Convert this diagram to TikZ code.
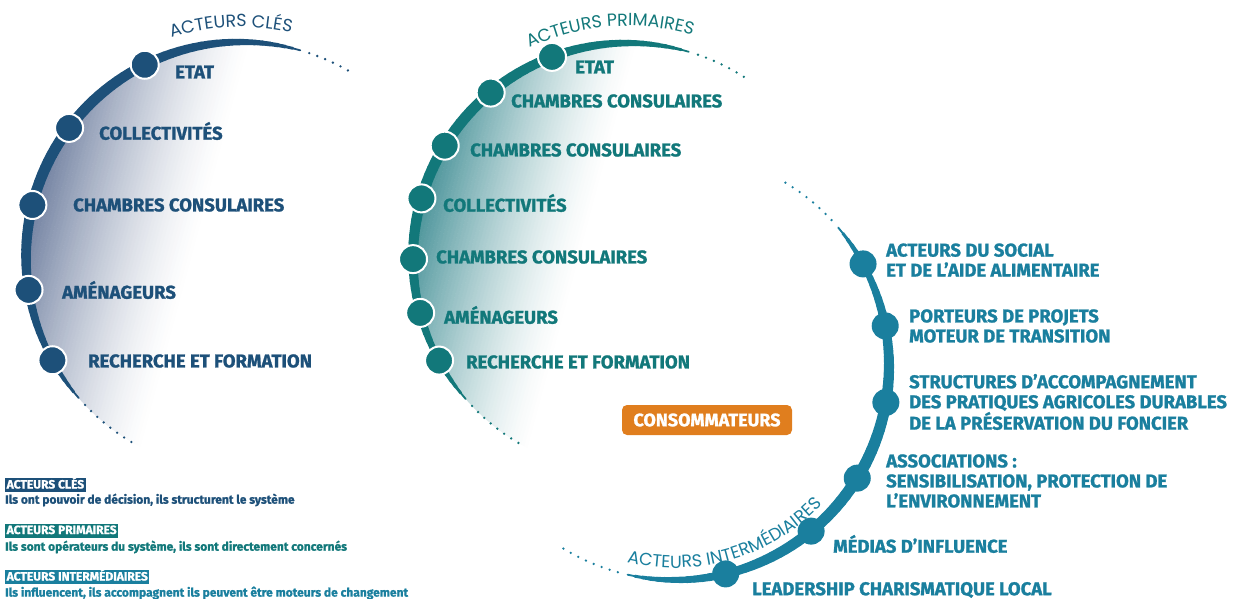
\documentclass[tikz,border=0pt]{standalone}
\usepackage{fontspec}
\setmainfont{Fira Sans}[BoldFeatures={FakeBold=1.2}]
\newfontfamily\titlefont{Poppins}
\usetikzlibrary{positioning,calc,decorations.text}

\definecolor{navy}{RGB}{29,80,121}
\definecolor{teal}{RGB}{18,120,122}
\definecolor{sea}{RGB}{26,127,158}
\definecolor{amber}{RGB}{224,126,30}
\definecolor{navyhaze}{RGB}{112,128,160}
\definecolor{tealhaze}{RGB}{72,146,152}

% tapered arc: centre, radius, start, end, colour, max width
\newcommand{\bandarc}[6]{%
  \foreach \i in {0,...,71}{
    \pgfmathsetmacro\ta{#3+(#4-#3)*\i/72}
    \pgfmathsetmacro\tb{#3+(#4-#3)*(\i+1)/72}
    \pgfmathsetmacro\wd{0.5+#6*sin(180*(\i+0.5)/72)^0.55}
    \draw[#5,line width=\wd pt,line cap=round] ($(#1)+(\ta:#2)$) -- ($(#1)+(\tb:#2)$);
  }}

% soft glow inside an arc: centre, axis angle, colour
\newcommand{\haze}[3]{%
  \begin{scope}
    \clip (#1) circle (215);
    \begin{scope}[shift={(#1)},rotate=#2]
      \foreach \i in {0,...,49}{
        \pgfmathsetmacro\pct{100*((\i+0.5)/50)^1.4}
        \fill[#3!\pct!white] ({45+\i*3.4},-230) rectangle ({48.8+\i*3.4},230);
      }
    \end{scope}
  \end{scope}}

\tikzset{
  dotline/.style={line width=2.6pt,line cap=round,dash pattern=on 0pt off 8.5pt},
  ringdot/.style={circle,draw=white,line width=2pt,minimum size=28pt,inner sep=0pt},
  plaindot/.style={circle,minimum size=27pt,inner sep=0pt},
  lbl/.style={anchor=west,inner sep=0pt,align=left,font=\bfseries\fontsize{18.5}{20}\selectfont},
  keytag/.style={anchor=west,text=white,inner xsep=1.5pt,inner ysep=1.5pt,text height=9pt,text depth=2pt,font=\bfseries\fontsize{12}{13}\selectfont},
  keytxt/.style={anchor=west,inner sep=0pt,font=\bfseries\fontsize{12}{13}\selectfont}
}

\begin{document}
\begin{tikzpicture}[x=1pt,y=1pt]
\useasboundingbox (0,0) rectangle (1235,-599);

\coordinate (kc) at (241,-257);
\coordinate (pc) at (628,-258);
\coordinate (mc) at (675,-366);

% glow behind the two left arcs
\haze{kc}{165}{navyhaze}
\haze{pc}{165}{tealhaze}

% acteurs cles
\bandarc{kc}{215}{74}{221}{navy}{10.5}
\draw[dotline,navy] ($(kc)+(71.5:215)$) arc[start angle=71.5,end angle=58,radius=215];
\draw[dotline,navy] ($(kc)+(223.5:215)$) arc[start angle=223.5,end angle=240,radius=215];
\path[decorate,decoration={text along path,text align=center,text color=navy,
  text={|\titlefont\fontsize{17.5}{18}\selectfont|ACTEURS CLÉS}}]
  ($(kc)+(113:230)$) arc[start angle=113,end angle=72,radius=230];

\node[ringdot,fill=navy] (k1) at ($(kc)+(116.6:215)$) {};
\node[ringdot,fill=navy] (k2) at ($(kc)+(143.1:215)$) {};
\node[ringdot,fill=navy] (k3) at ($(kc)+(166:215)$) {};
\node[ringdot,fill=navy] (k4) at ($(kc)+(188.8:215)$) {};
\node[ringdot,fill=navy] (k5) at ($(kc)+(208.7:215)$) {};

\node[lbl,navy] (k1t) at (175,-72) {ETAT};
\node[lbl,navy] (k2t) at (99,-131) {COLLECTIVITÉS};
\node[lbl,navy] (k3t) at (73,-205) {CHAMBRES CONSULAIRES};
\node[lbl,navy] (k4t) at (62,-290) {AMÉNAGEURS};
\node[lbl,navy] (k5t) at (88,-361) {RECHERCHE ET FORMATION};

% acteurs primaires
\bandarc{pc}{215}{73.6}{221}{teal}{10.5}
\draw[dotline,teal] ($(pc)+(71:215)$) arc[start angle=71,end angle=57,radius=215];
\draw[dotline,teal] ($(pc)+(223.5:215)$) arc[start angle=223.5,end angle=240,radius=215];
\path[decorate,decoration={text along path,text align=center,text color=teal,
  text={|\titlefont\fontsize{17.5}{18}\selectfont|ACTEURS PRIMAIRES}}]
  ($(pc)+(122:232)$) arc[start angle=122,end angle=67,radius=232];

\node[ringdot,fill=teal] (p1) at ($(pc)+(110.7:215)$) {};
\node[ringdot,fill=teal] (p2) at ($(pc)+(129.7:215)$) {};
\node[ringdot,fill=teal] (p3) at ($(pc)+(148.5:215)$) {};
\node[ringdot,fill=teal] (p4) at ($(pc)+(163.9:215)$) {};
\node[ringdot,fill=teal] (p5) at ($(pc)+(180.3:215)$) {};
\node[ringdot,fill=teal] (p6) at ($(pc)+(194.8:215)$) {};
\node[ringdot,fill=teal] (p7) at ($(pc)+(208.5:215)$) {};

\node[lbl,teal] (p1t) at (575,-67) {ETAT};
\node[lbl,teal] (p2t) at (511,-101) {CHAMBRES CONSULAIRES};
\node[lbl,teal] (p3t) at (470,-150) {CHAMBRES CONSULAIRES};
\node[lbl,teal] (p4t) at (443,-203) {COLLECTIVITÉS};
\node[lbl,teal] (p5t) at (436,-257) {CHAMBRES CONSULAIRES};
\node[lbl,teal] (p6t) at (444,-315) {AMÉNAGEURS};
\node[lbl,teal] (p7t) at (466,-362) {RECHERCHE ET FORMATION};

% acteurs intermediaires
\bandarc{mc}{214}{40.3}{-102.8}{sea}{11}
\draw[dotline,sea] ($(mc)+(43:214)$) arc[start angle=43,end angle=60,radius=214];
\draw[dotline,sea] ($(mc)+(-105.5:214)$) arc[start angle=-105.5,end angle=-122,radius=214];
\path[decorate,decoration={text along path,text align=center,text color=sea,
  text={|\titlefont\fontsize{17.5}{18}\selectfont|ACTEURS INTERMÉDIAIRES}}]
  ($(mc)+(-111:202)$) arc[start angle=-111,end angle=-36,radius=202];

\node[plaindot,fill=sea] (m1) at ($(mc)+(28.5:214)$) {};
\node[plaindot,fill=sea] (m2) at ($(mc)+(10.8:214)$) {};
\node[plaindot,fill=sea] (m3) at ($(mc)+(-9.8:214)$) {};
\node[plaindot,fill=sea] (m4) at ($(mc)+(-31.6:214)$) {};
\node[plaindot,fill=sea] (m5) at ($(mc)+(-50.5:214)$) {};
\node[plaindot,fill=sea] (m6) at ($(mc)+(-76.3:214)$) {};

\node[lbl,sea] (m1t) at (886,-260) {ACTEURS DU SOCIAL\\ET DE L’AIDE ALIMENTAIRE};
\node[lbl,sea] (m2t) at (909,-326) {PORTEURS DE PROJETS\\MOTEUR DE TRANSITION};
\node[lbl,sea] (m3t) at (909,-402) {STRUCTURES D’ACCOMPAGNEMENT\\DES PRATIQUES AGRICOLES DURABLES\\DE LA PRÉSERVATION DU FONCIER};
\node[lbl,sea] (m4t) at (886,-481) {ASSOCIATIONS :\\SENSIBILISATION, PROTECTION DE\\L’ENVIRONNEMENT};
\node[lbl,sea] (m5t) at (833,-544) {MÉDIAS D’INFLUENCE};
\node[lbl,sea] (m6t) at (752,-590) {LEADERSHIP CHARISMATIQUE LOCAL};

% consommateurs
\node[fill=amber,rounded corners=5pt,minimum width=170pt,minimum height=30pt,text=white,
  font=\bfseries\fontsize{18}{20}\selectfont] (cons) at (707,-420) {CONSOMMATEURS};

% legende
\node[keytag,fill=navy] (kkey) at (5,-485) {ACTEURS CLÉS};
\node[keytxt,navy] (kkeyt) at (5,-500) {Ils ont pouvoir de décision, ils structurent le système};
\node[keytag,fill=teal] (pkey) at (5,-530.5) {ACTEURS PRIMAIRES};
\node[keytxt,teal] (pkeyt) at (5,-547) {Ils sont opérateurs du système, ils sont directement concernés};
\node[keytag,fill=sea] (mkey) at (5,-577) {ACTEURS INTERMÉDIAIRES};
\node[keytxt,sea] (mkeyt) at (5,-593) {Ils influencent, ils accompagnent ils peuvent être moteurs de changement};

\end{tikzpicture}
\end{document}
